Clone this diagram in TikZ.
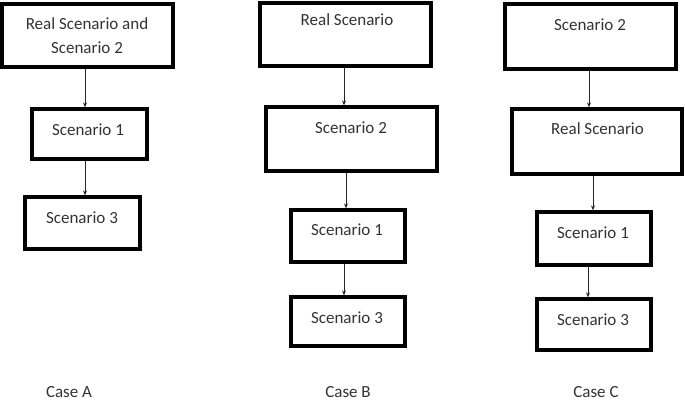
\documentclass[tikz,border=0pt]{standalone}
\usepackage{fontspec}
\setmainfont{Carlito}
\usetikzlibrary{arrows.meta}
\begin{document}
\begin{tikzpicture}[x=1pt,y=-1pt,
  box/.style={draw=black,line width=3.2pt,inner sep=0pt},
  lbl/.style={font=\fontsize{17}{20}\selectfont,text=black!80,inner sep=0pt,anchor=center},
  conn/.style={draw=black!85,line width=0.9pt,-{Stealth[length=5pt,width=4pt]}}]
\useasboundingbox[fill=white] (0,0) rectangle (685,403);
% Case A
\node[box,minimum width=171pt,minimum height=63pt] (A1) at (87.5,35.5) {};
\node[box,minimum width=115pt,minimum height=50pt] (A2) at (89.5,134) {};
\node[box,minimum width=115pt,minimum height=52pt] (A3) at (82.5,223) {};
\node[lbl] (tA1a) at (87,24) {Real Scenario and};
\node[lbl] (tA1b) at (87,48) {Scenario 2};
\node[lbl] (tA2) at (88,130) {Scenario 1};
\node[lbl] (tA3) at (82,218) {Scenario 3};
\draw[conn] (A1.south -| 85,0) -- (A2.north -| 85,0);
\draw[conn] (A2.south -| 85,0) -- (A3.north -| 85,0);
% Case B
\node[box,minimum width=171pt,minimum height=63pt] (B1) at (345.5,34.5) {};
\node[box,minimum width=171pt,minimum height=64pt] (B2) at (351.5,139) {};
\node[box,minimum width=114pt,minimum height=52pt] (B3) at (348,236) {};
\node[box,minimum width=114pt,minimum height=49pt] (B4) at (348,321.5) {};
\node[lbl] (tB1) at (347,20) {Real Scenario};
\node[lbl] (tB2) at (351,128) {Scenario 2};
\node[lbl] (tB3) at (347,230) {Scenario 1};
\node[lbl] (tB4) at (347,318) {Scenario 3};
\draw[conn] (B1.south -| 344,0) -- (B2.north -| 344,0);
\draw[conn] (B2.south -| 346,0) -- (B3.north -| 346,0);
\draw[conn] (B3.south -| 344,0) -- (B4.north -| 344,0);
% Case C
\node[box,minimum width=171pt,minimum height=65pt] (C1) at (590.5,36.5) {};
\node[box,minimum width=170pt,minimum height=65pt] (C2) at (597,141.5) {};
\node[box,minimum width=114pt,minimum height=53pt] (C3) at (594,238.5) {};
\node[box,minimum width=114pt,minimum height=51pt] (C4) at (594,324.5) {};
\node[lbl] (tC1) at (590,25) {Scenario 2};
\node[lbl] (tC2) at (597.5,129) {Real Scenario};
\node[lbl] (tC3) at (593,233) {Scenario 1};
\node[lbl] (tC4) at (593,320) {Scenario 3};
\draw[conn] (C1.south -| 589,0) -- (C2.north -| 589,0);
\draw[conn] (C2.south -| 593,0) -- (C3.north -| 593,0);
\draw[conn] (C3.south -| 588,0) -- (C4.north -| 588,0);
% Case labels
\node[lbl] (cA) at (69,392) {Case A};
\node[lbl] (cB) at (348,392) {Case B};
\node[lbl] (cC) at (596,392) {Case C};
\end{tikzpicture}
\end{document}
